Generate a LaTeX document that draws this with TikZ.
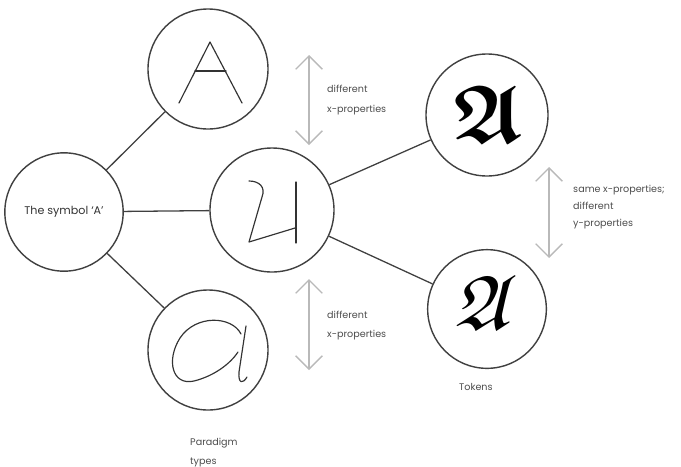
\documentclass[tikz,border=0pt]{standalone}
\usepackage{amsmath,amssymb}
\usepackage{fontspec}
\setsansfont{Poppins}
\usetikzlibrary{arrows.meta}
\tikzset{
	sign/.style={circle, draw=black!75, line width=1.2pt, minimum size=#1, inner sep=0pt},
	link/.style={draw=black!75, line width=1.1pt},
	glyph/.style={draw=black!80, line width=1pt, line cap=round, line join=round},
	xprop/.style={gray!55, line width=1.1pt,
			{Straight Barb[length=4mm, width=8mm]}-{Straight Barb[length=4mm, width=8mm]}},
	caption/.style={font=\sffamily\fontsize{8.2}{#1}\selectfont, text=black!70,
			align=left, anchor=base west, inner sep=0pt}
}

\begin{document}
\begin{tikzpicture}[x=0.03cm, y=-0.03cm]
		\useasboundingbox (0,0) rectangle (681,466);

		% The symbol and its paradigm types
		\node[sign=3.55cm, font=\sffamily\fontsize{9.5}{11}\selectfont, text=black!80] (sym) at (64,212) {The symbol ‘A’};
		\node[sign=3.6cm] (paraA) at (208,69) {};
		\node[sign=3.72cm] (paraB) at (272,210) {};
		\node[sign=3.6cm] (paraC) at (208,350) {};

		% Tokens
		\node[sign=3.66cm] (tokA) at (487,115) {};
		\node[sign=3.56cm] (tokB) at (487,309) {};

		\draw[link] (sym) -- (paraA);
		\draw[link] (sym) -- (paraB);
		\draw[link] (sym) -- (paraC);
		\draw[link] (paraB) -- (tokA);
		\draw[link] (paraB) -- (tokB);

		% Glyphs
		\draw[glyph] (179,103) -- (210,42) -- (242,103);
		\draw[glyph] (195,71) -- (226,71);
		\draw[glyph] (249,181) .. controls (259,181) and (266,187) .. (262,197) -- (249,242) -- (295,228);
		\draw[glyph] (296,182) -- (296,243);
		\draw[glyph] (241,334) .. controls (232,316) and (196,314) .. (180,338)
			.. controls (166,360) and (172,386) .. (194,381)
			.. controls (214,376) and (230,364) .. (238,352);
		\draw[glyph] (246,326) -- (239,372) .. controls (238,384) and (243,384) .. (247,377);
		\node[font=\fontsize{70}{70}\selectfont] (frakA) at (488,114) {$\boldsymbol{\mathfrak{A}}$};
		\node[font=\fontsize{66}{66}\selectfont, xslant=0.25, transform shape] (frakB) at (488,303) {$\mathfrak{A}$};

		% Property arrows
		\coordinate (upA) at (309,55);
		\coordinate (downA) at (309,145);
		\coordinate (upB) at (309,279);
		\coordinate (downB) at (309,370);
		\coordinate (upC) at (549,167);
		\coordinate (downC) at (549,258);
		\draw[xprop] (upA) -- (downA);
		\draw[xprop] (upB) -- (downB);
		\draw[xprop] (upC) -- (downC);

		\node[caption=17pt] (noteA) at (327,112) {different\\x-properties};
		\node[caption=16pt] (noteB) at (327,337) {different\\x-properties};
		\node[caption=14.5pt] (noteC) at (573,226) {same x-properties;\\different\\y-properties};
		\node[caption=16pt] (types) at (190,464) {Paradigm\\types};
		\node[caption=16pt] (tokens) at (459,390) {Tokens};
	\end{tikzpicture}
\end{document}
